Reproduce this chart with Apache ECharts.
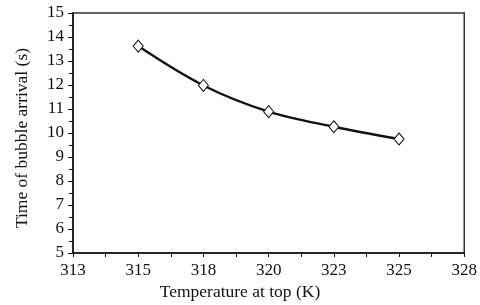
<!DOCTYPE html>
<html><head><meta charset="utf-8">
<script src="https://cdn.jsdelivr.net/npm/echarts@6/dist/echarts.min.js"></script>
<style>html,body{margin:0;padding:0;background:#fff}#c{width:480px;height:305px}</style>
</head><body><div id="c"></div>
<script>
var temperatures = [315, 317.5, 320, 322.5, 325];
var arrivalTimes = [13.62, 11.98, 10.89, 10.26, 9.75];
var xTitle = 'Temperature at top (K)';
var yTitle = 'Time of bubble arrival (s)';
var font = '"Liberation Serif", "Times New Roman", serif';

var chart = echarts.init(document.getElementById('c'), null, {renderer: 'canvas'});
chart.setOption({
  animation: false,
  backgroundColor: '#fff',
  grid: {left: 73, right: 13, top: 13, bottom: 52, show: true, borderColor: '#333', borderWidth: 1.5, backgroundColor: 'transparent'},
  xAxis: {
    type: 'value', min: 312.5, max: 327.5, interval: 2.5,
    axisLine: {lineStyle: {color: '#111', width: 1.5}},
    axisTick: {show: true, length: 4, lineStyle: {color: '#111'}},
    minorTick: {show: true, splitNumber: 2, length: 4, lineStyle: {color: '#111'}},
    splitLine: {show: false},
    axisLabel: {color: '#111', fontFamily: font, fontSize: 17, margin: 9,
      formatter: function (v) { return String(Math.round(v)); }}
  },
  yAxis: {
    type: 'value', min: 5, max: 15, interval: 1,
    axisLine: {show: true, lineStyle: {color: '#111', width: 1.5}},
    axisTick: {show: true, length: 5, lineStyle: {color: '#111'}},
    minorTick: {show: true, splitNumber: 2, length: 4, lineStyle: {color: '#111'}},
    splitLine: {show: false},
    axisLabel: {color: '#111', fontFamily: font, fontSize: 17, margin: 9}
  },
  graphic: [{
    type: 'text', left: 'center', top: 283,
    style: {text: xTitle, font: '17.5px ' + font, fill: '#111'}
  }, {
    type: 'text', x: 22, y: 138, rotation: Math.PI / 2,
    style: {text: yTitle, font: '17.5px ' + font, fill: '#111', align: 'center', verticalAlign: 'middle'}
  }],
  series: [{
    type: 'line',
    data: temperatures.map(function (t, i) { return [t, arrivalTimes[i]]; }),
    smooth: 0.35,
    symbol: 'diamond', symbolSize: [10, 12],
    itemStyle: {color: '#fff', borderColor: '#111', borderWidth: 1},
    lineStyle: {color: '#111', width: 2.4}
  }]
});
</script></body></html>
